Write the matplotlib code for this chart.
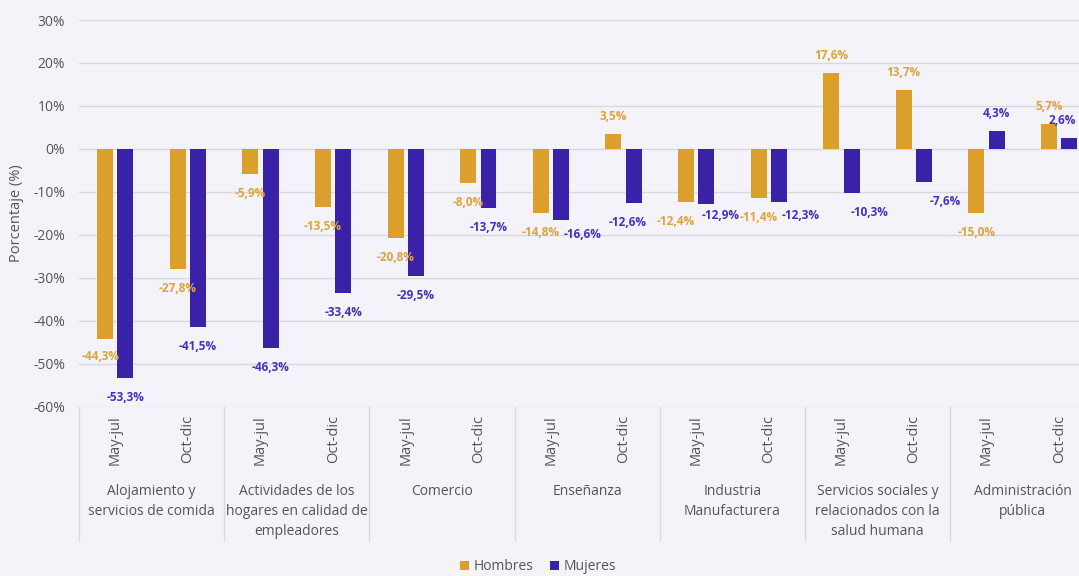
import matplotlib
matplotlib.use("Agg")
import matplotlib.pyplot as plt
import matplotlib.transforms as mtransforms
from matplotlib.lines import Line2D
import numpy as np

# ---------------- data ----------------
sectors = ["Alojamiento y\nservicios de comida",
           "Actividades de los\nhogares en calidad de\nempleadores",
           "Comercio",
           "Enseñanza",
           "Industria\nManufacturera",
           "Servicios sociales y\nrelacionados con la\nsalud humana",
           "Administración\npública"]
periods = ["May-jul", "Oct-dic"]
hombres = [-44.3, -27.8, -5.9, -13.5, -20.8, -8.0, -14.8, 3.5,
           -12.4, -11.4, 17.6, 13.7, -15.0, 5.7]
mujeres = [-53.3, -41.5, -46.3, -33.4, -29.5, -13.7, -16.6, -12.6,
           -12.9, -12.3, -10.3, -7.6, 4.3, 2.6]
yticks = [30, 20, 10, 0, -10, -20, -30, -40, -50, -60]

# ---------------- style ----------------
BG = "#F4F3FA"
C_H = "#DBA02B"
C_M = "#3A22A8"
C_HL = "#DEA33A"
C_ML = "#4431BE"
TXT = "#555555"
GRID = "#D9D8E0"
plt.rcParams['font.family'] = ['Open Sans', 'DejaVu Sans']

# label nudges in pixels (dx, dy); dy positive = down
nudge_h = {0: (-5, -2), 8: (-10, 0)}
nudge_m = {6: (21, -5), 7: (-6, 0), 8: (14, -8), 9: (22, -6), 10: (18, 0), 11: (21, 0),
           13: (-7, 0)}

fig = plt.figure(figsize=(10.79, 5.76), dpi=100, facecolor=BG)
ax_left = 79 / 1079
ax_w = (1095.5 - 79) / 1079
ax_bottom = 1 - 407 / 576
ax_h = (407 - 20) / 576
ax = fig.add_axes([ax_left, ax_bottom, ax_w, ax_h])
ax.set_facecolor(BG)

n = len(hombres)
x = np.arange(n)
bw = 0.22
off = 0.14
ax.bar(x - off, hombres, bw, color=C_H, zorder=3, label="Hombres")
ax.bar(x + off, mujeres, bw, color=C_M, zorder=3, label="Mujeres")

ax.set_xlim(-0.5, n - 0.5)
ax.set_ylim(-60, 30)
ax.set_yticks(yticks)
ax.set_yticklabels([f"{t}%" for t in yticks], fontsize=10, color=TXT)
ax.tick_params(axis='y', length=0, pad=10)
ax.set_xticks([])
ax.grid(axis='y', color=GRID, lw=1, zorder=0)
for s in ax.spines.values():
    s.set_visible(False)
ax.set_ylabel("Porcentaje (%)", fontsize=10.5, color=TXT)
ax.yaxis.set_label_coords(-55 / (1095.5 - 79), 0.5)

px = 0.72  # points per pixel at 100 dpi

def fmt(v):
    return f"{v:.1f}".replace(".", ",") + "%"

def put_labels(vals, sign_off, color, nudges):
    for i, v in enumerate(vals):
        dx, dy = nudges.get(i, (0, 0))
        base = -19.5 if v < 0 else 17.5
        ax.annotate(fmt(v), xy=(i + sign_off, v), xytext=(dx * px, (base - dy) * px),
                    textcoords="offset points", ha="center", va="center",
                    fontsize=8.5, fontweight="bold", color=color, zorder=4,
                    annotation_clip=False)

put_labels(hombres, -off, C_HL, nudge_h)
put_labels(mujeres, off, C_ML, nudge_m)

# ---------------- multi-level x axis ----------------
trans = mtransforms.blended_transform_factory(ax.transData, ax.transAxes)
axh_px = 407 - 20
for i in range(n):
    ax.text(i, -8 / axh_px, periods[i % 2], transform=trans, rotation=90,
            ha="center", va="top", fontsize=10.5, color=TXT)
for g in range(len(sectors) + 1):
    xb = g * 2 - 0.5
    ax.add_line(Line2D([xb, xb], [0, -133 / axh_px], transform=trans,
                       color=GRID, lw=1, clip_on=False))
for g, name in enumerate(sectors):
    ax.text(g * 2 + 0.5, -77 / axh_px, name, transform=trans, ha="center",
            va="top", fontsize=10, color=TXT, linespacing=1.45)

fig.legend(loc="center", bbox_to_anchor=(538 / 1079, 1 - 567 / 576), ncol=2,
           frameon=False, fontsize=10, handlelength=0.65, handleheight=0.65,
           handletextpad=0.3, columnspacing=1.2, labelcolor=TXT)

fig.savefig("out.png", dpi=100, facecolor=BG)
